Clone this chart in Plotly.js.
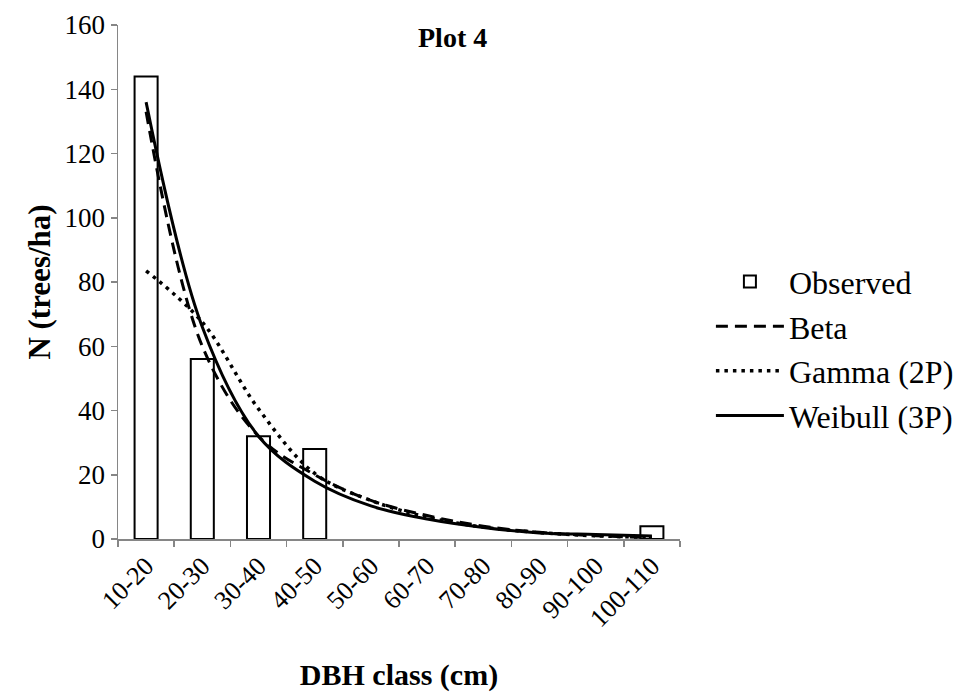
<!DOCTYPE html>
<html>
<head>
<meta charset="utf-8">
<script src="https://cdn.plot.ly/plotly-3.0.1.min.js"></script>
<style>body{margin:0;background:#fff;}#chart{width:968px;height:693px;}</style>
</head>
<body>
<div id="chart"></div>
<script>
var categories = ["10-20","20-30","30-40","40-50","50-60","60-70","70-80","80-90","90-100","100-110"];
var observed = [144, 56, 32, 28, 0, 0, 0, 0, 0, 4];
var beta = [133, 60, 32, 20, 12, 7.3, 4, 2.1, 1, 0.5];
var gamma = [83.5, 67.5, 40.5, 20.4, 12, 6.8, 3.7, 2, 1, 0.5];
var weibull = [136, 66, 32, 18, 10.3, 6.2, 3.6, 1.9, 1.4, 0.9];
var yTicks = [0, 20, 40, 60, 80, 100, 120, 140, 160];

var serif = '"Liberation Serif", "Times New Roman", serif';
var traces = [
  {type:"bar", name:"Observed", x:categories, y:observed, width:0.41,
   marker:{color:"#ffffff", line:{color:"#000000", width:observed.map(function(v){return v>0?2:0;})}}},
  {type:"scatter", mode:"lines", name:"Beta", x:categories, y:beta,
   line:{color:"#000000", width:3, dash:"12px,7px", shape:"spline", smoothing:1}},
  {type:"scatter", mode:"lines", name:"Gamma (2P)", x:categories, y:gamma,
   line:{color:"#000000", width:3.5, dash:"3.5px,5px", shape:"spline", smoothing:1}},
  {type:"scatter", mode:"lines", name:"Weibull (3P)", x:categories, y:weibull,
   line:{color:"#000000", width:3, shape:"spline", smoothing:1}}
];
var layout = {
  width:968, height:693,
  margin:{l:118, r:288, t:25, b:154, autoexpand:false},
  paper_bgcolor:"#ffffff", plot_bgcolor:"#ffffff",
  font:{family:serif, color:"#000000", size:26},
  showlegend:true,
  legend:{x:1.055, y:0.37, xanchor:"left", yanchor:"middle", font:{family:serif, size:32}, tracegroupgap:0, itemwidth:68, traceorder:"normal"},
  xaxis:{type:"category", tickson:"boundaries", ticks:"outside", ticklen:6, tickcolor:"#868686", tickwidth:1.5,
    showline:true, linecolor:"#868686", linewidth:1.5, showgrid:false, zeroline:false, tickangle:-45,
    tickfont:{family:serif, size:26}, range:[-0.5, 9.5],
    title:{text:"<b>DBH class (cm)</b>", font:{family:serif, size:30}, standoff:32}},
  yaxis:{range:[0,160], tickvals:yTicks, ticks:"outside", ticklen:6, tickcolor:"#868686", tickwidth:1.5,
    showline:true, linecolor:"#868686", linewidth:1.5, showgrid:false, zeroline:false,
    tickfont:{family:serif, size:27},
    title:{text:"<b>N (trees/ha)</b>", font:{family:serif, size:31}, standoff:4}},
  annotations:[{text:"<b>Plot 4</b>", xref:"paper", yref:"paper", x:0.595, y:0.975, xanchor:"center", yanchor:"middle", showarrow:false, font:{family:serif, size:28}}]
};
Plotly.newPlot("chart", traces, layout, {displayModeBar:false, staticPlot:true});
</script>
</body>
</html>
